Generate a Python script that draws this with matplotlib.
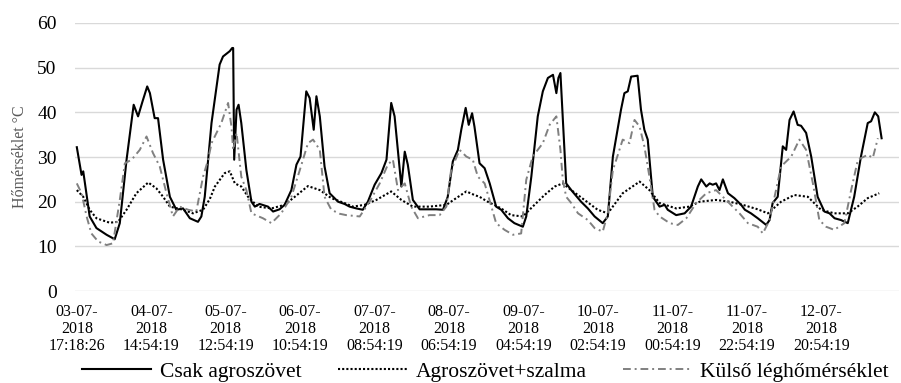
import matplotlib
matplotlib.use('Agg')
import matplotlib.pyplot as plt
import numpy as np

# Time axis in hours since the first sample (03-07-2018 17:18:26)
tick_hours = [0, 22, 44, 66, 88, 110, 132, 154, 176, 198, 220]
tick_labels = ['03-07-\n2018\n17:18:26', '04-07-\n2018\n14:54:19', '05-07-\n2018\n12:54:19',
               '06-07-\n2018\n10:54:19', '07-07-\n2018\n08:54:19', '08-07-\n2018\n06:54:19',
               '09-07-\n2018\n04:54:19', '10-07-\n2018\n02:54:19', '11-07-\n2018\n00:54:19',
               '11-07-\n2018\n22:54:19', '12-07-\n2018\n20:54:19']

# Csak agroszövet
agro_h = [0, 1.4, 1.9, 2.7, 3.8, 5.8, 8.8, 11.2, 12.7, 14.7, 16.8, 18.1, 19.4, 20.8, 21.6,
          23.0, 24.0, 25.5, 27.5, 29.4, 31.4, 33.4, 35.8, 36.8, 37.8, 39.8, 42.2, 43.2, 45.2,
          45.9, 46.2, 46.5, 47.2, 47.8, 48.6, 50.1, 51.6, 52.6, 54.0, 56.5, 58.0, 59.9, 61.4,
          63.4, 64.9, 66.1, 67.8, 68.8, 70.0, 70.8, 71.8, 73.2, 74.7, 77.2, 79.1, 80.6, 82.6,
          84.5, 86.0, 88.0, 90.0, 91.5, 92.9, 93.9, 95.9, 96.9, 97.8, 99.3, 101.3, 106.2,
          108.2, 109.6, 111.1, 112.6, 113.6, 114.9, 115.8, 116.8, 117.5, 119.0, 120.5, 122.0,
          123.9, 125.4, 127.4, 129.3, 131.8, 132.8, 134.3, 136.2, 137.7, 139.2, 140.7, 141.7,
          142.3, 142.9, 144.6, 146.1, 149.0, 151.0, 153.0, 155.4, 156.9, 158.4, 160.8, 161.8,
          162.8, 163.8, 165.7, 166.7, 167.7, 168.7, 170.2, 172.2, 173.7, 174.6, 177.1, 179.6,
          181.5, 183.5, 184.5, 186.0, 187.0, 187.9, 188.9, 189.9, 190.9, 192.4, 194.3, 196.3,
          197.4, 199.2, 201.2, 203.7, 204.7, 205.6, 207.1, 208.6, 209.6, 210.6, 211.8, 213.0,
          214.0, 215.5, 217.0, 218.9, 220.9, 222.4, 223.9, 225.8, 227.8, 229.7, 231.7, 233.7,
          234.7, 235.8, 236.8, 237.8]
agro_t = [32.2, 26.0, 26.8, 22.6, 16.7, 14.1, 12.6, 11.6, 15.2, 29.4, 41.7, 39.1, 42.4, 45.8,
          44.3, 38.7, 38.7, 29.4, 21.1, 18.2, 18.5, 16.3, 15.5, 16.7, 21.1, 37.6, 50.7, 52.5,
          53.7, 54.4, 54.4, 29.4, 40.6, 41.7, 37.6, 27.1, 20.0, 18.9, 19.5, 18.9, 17.8, 18.3,
          19.3, 22.6, 28.3, 30.1, 44.7, 43.2, 36.1, 43.6, 39.1, 27.9, 21.9, 20.0, 19.5, 18.9,
          18.5, 18.2, 20.0, 23.8, 26.4, 29.4, 42.1, 39.1, 23.4, 31.2, 28.3, 20.4, 18.3, 18.3,
          18.2, 21.1, 29.0, 31.6, 36.1, 41.0, 37.2, 39.8, 36.8, 28.6, 27.5, 24.1, 18.9, 18.2,
          16.3, 15.2, 14.4, 16.7, 25.6, 39.1, 44.7, 47.7, 48.4, 44.3, 47.7, 48.8, 24.1, 22.6,
          20.0, 18.5, 16.7, 15.2, 16.7, 30.1, 40.6, 44.3, 44.7, 48.0, 48.2, 40.6, 36.1, 33.9,
          21.1, 18.9, 19.3, 18.2, 17.0, 17.4, 18.9, 23.4, 25.0, 23.4, 24.1, 23.8, 24.1, 22.6,
          25.0, 21.9, 20.8, 19.3, 18.2, 17.4, 16.3, 14.8, 15.9, 19.7, 21.1, 32.4, 31.6, 38.3,
          40.2, 37.2, 37.0, 35.4, 30.1, 21.1, 17.8, 17.4, 16.3, 15.9, 15.2, 21.1, 30.1, 37.6,
          38.0, 40.0, 39.1, 34.2]

# Agroszövet+szalma
szalma_h = [0, 1.9, 3.8, 5.8, 9.7, 12.2, 14.7, 17.6, 21.1, 23.5, 25.5, 27.5, 31.4, 34.3,
            37.3, 39.3, 40.8, 43.7, 45.2, 46.7, 48.6, 50.6, 53.5, 57.5, 61.4, 64.4, 68.3,
            71.8, 75.2, 79.1, 81.6, 85.0, 88.5, 92.9, 95.9, 99.3, 104.2, 109.2, 112.1, 115.1,
            117.5, 119.0, 121.4, 125.4, 128.3, 131.8, 134.7, 138.2, 141.2, 143.6, 146.1,
            150.0, 153.9, 156.9, 161.3, 166.3, 169.2, 172.2, 177.1, 181.0, 184.0, 188.9,
            192.8, 196.8, 201.2, 204.2, 208.1, 212.0, 216.0, 219.9, 223.8, 227.8, 230.7,
            233.7, 237.1]
szalma_t = [22.6, 21.1, 18.2, 16.3, 15.3, 15.5, 18.2, 21.9, 24.3, 23.0, 21.1, 18.9, 18.2,
            17.4, 18.2, 20.6, 23.4, 26.4, 26.8, 24.1, 23.4, 21.1, 18.9, 18.5, 19.3, 21.1,
            23.5, 22.6, 20.8, 19.7, 18.9, 19.3, 20.4, 22.3, 20.4, 18.9, 18.9, 19.3, 20.8,
            22.3, 21.5, 21.1, 20.0, 18.5, 17.0, 16.7, 18.9, 21.5, 23.4, 24.1, 22.6, 20.4,
            18.2, 17.4, 21.9, 24.5, 22.6, 19.7, 18.5, 18.9, 20.0, 20.4, 20.0, 19.3, 18.3,
            17.4, 20.0, 21.5, 21.1, 18.2, 17.4, 17.4, 18.9, 20.8, 21.9]

# Külső léghőmérséklet
kulso_h = [0, 1.4, 2.9, 4.3, 6.3, 8.8, 10.7, 12.7, 14.2, 16.2, 18.6, 20.6, 22.5, 24.5,
           26.5, 28.4, 30.4, 32.9, 35.3, 37.3, 38.8, 39.8, 42.7, 44.7, 45.7, 46.2, 47.2,
           48.6, 50.1, 51.6, 55.0, 57.5, 60.4, 63.4, 65.9, 68.3, 69.8, 71.8, 73.2, 75.2,
           77.7, 79.6, 83.6, 86.5, 89.5, 91.9, 93.4, 94.9, 96.9, 98.8, 100.8, 104.2, 107.2,
           109.2, 110.6, 113.1, 115.1, 117.0, 118.5, 120.5, 122.5, 123.9, 126.4, 128.9,
           131.3, 132.8, 134.7, 137.7, 139.7, 141.7, 142.9, 143.6, 144.6, 146.1, 148.1,
           151.0, 153.0, 155.4, 156.9, 158.4, 159.4, 161.3, 163.3, 164.8, 166.3, 167.7,
           169.2, 170.7, 172.2, 175.2, 177.6, 180.1, 183.0, 186.0, 188.9, 190.9, 193.8,
           195.8, 198.3, 201.2, 202.7, 204.7, 206.6, 208.1, 211.1, 213.5, 215.5, 217.5,
           219.4, 221.4, 223.8, 226.8, 228.8, 230.8, 233.7, 235.2, 236.7]
kulso_t = [24.1, 21.9, 16.7, 12.9, 11.1, 10.3, 10.7, 20.4, 28.6, 29.4, 31.6, 34.6, 30.9,
           27.9, 21.9, 16.7, 18.9, 18.2, 17.8, 25.6, 29.4, 33.1, 37.6, 42.1, 36.8, 31.6,
           35.4, 25.6, 22.6, 17.4, 16.3, 15.2, 17.4, 21.1, 27.1, 33.1, 33.9, 31.6, 21.1,
           18.2, 17.3, 17.0, 16.7, 20.0, 24.1, 28.3, 29.4, 22.6, 24.1, 18.9, 16.3, 17.0,
           17.0, 18.9, 27.1, 31.6, 30.1, 29.4, 25.6, 24.1, 18.9, 15.2, 13.7, 12.6, 12.9,
           24.9, 30.1, 33.1, 37.2, 39.1, 31.6, 24.9, 21.1, 19.7, 17.4, 15.9, 14.1, 13.3,
           17.4, 27.1, 29.4, 33.9, 33.1, 38.3, 36.8, 32.4, 25.6, 18.2, 16.7, 15.2, 14.8,
           16.3, 19.7, 21.9, 22.6, 21.1, 18.9, 17.4, 15.2, 14.4, 12.9, 15.9, 22.6, 27.9,
           30.1, 33.9, 31.6, 24.1, 15.9, 14.4, 13.7, 15.2, 22.6, 29.4, 30.5, 29.8, 34.2]

plt.rcParams['font.family'] = ['Liberation Serif', 'DejaVu Serif']

fig = plt.figure(figsize=(9.01, 3.83), dpi=100)
ax = fig.add_axes([0.083, 0.240, 0.915, 0.700])

ax.plot(agro_h, agro_t, color='black', lw=1.5, label='Csak agroszövet')
ax.plot(szalma_h, szalma_t, color='black', lw=1.5, linestyle=(0, (1, 1)),
        label='Agroszövet+szalma')
ax.plot(kulso_h, kulso_t, color='#808080', lw=1.4, linestyle=(0, (4, 2, 1, 2)),
        label='Külső léghőmérséklet')

ax.set_ylim(0, 60)
ax.set_xlim(-0.6, 243)
ax.set_yticks(range(0, 61, 10))
ax.set_xticks(tick_hours)
ax.set_xticklabels(tick_labels, fontsize=11.5, linespacing=1.1)
ax.tick_params(axis='y', labelsize=14, length=0, pad=13)
ax.tick_params(axis='x', length=0, pad=9)
ax.grid(axis='y', color='#d9d9d9', lw=1)
ax.set_axisbelow(True)
for s in ax.spines.values():
    s.set_visible(False)

ax.set_ylabel('Hőmérséklet °C', fontsize=11.5, color='#595959')
ax.yaxis.set_label_coords(-0.057, 0.5)

fig.legend(loc='center', bbox_to_anchor=(0.539, 0.029), ncol=3, frameon=False,
           fontsize=15.5, handlelength=3.2, handletextpad=0.4, columnspacing=1.7,
           borderaxespad=0, borderpad=0)

fig.savefig('out.png', dpi=100)
